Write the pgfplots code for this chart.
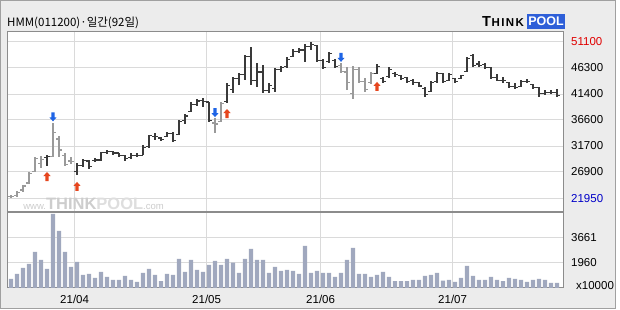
\documentclass[border=0pt]{standalone}
\usepackage{pgfplots}
\pgfplotsset{compat=1.18}
\usepackage{pgfplotstable}
\usepackage{fontspec}
\setmainfont{Liberation Sans}
\newfontfamily\cjk{Noto Sans CJK KR}

\definecolor{bgc}{HTML}{ECECEC}
\definecolor{outerc}{HTML}{A0A0A0}
\definecolor{framec}{HTML}{8C8C8C}
\definecolor{gridc}{HTML}{DADADA}
\definecolor{dkbar}{HTML}{3A3A3A}
\definecolor{ltbar}{HTML}{9A9A9A}
\definecolor{volc}{HTML}{A0A8BE}
\definecolor{arrblue}{HTML}{1E64E6}
\definecolor{arrred}{HTML}{E6461E}
\definecolor{lblred}{HTML}{E00000}
\definecolor{lblblue}{HTML}{0000C8}
\definecolor{poolblue}{HTML}{2E5FD8}
\definecolor{wm}{HTML}{CDCDCD}
\definecolor{wm2}{HTML}{DEDEDE}

\pgfdeclareplotmark{otick}{\pgfpathmoveto{\pgfqpoint{-2.7pt}{0pt}}\pgfpathlineto{\pgfqpoint{0pt}{0pt}}\pgfusepathqstroke}
\pgfdeclareplotmark{ctick}{\pgfpathmoveto{\pgfqpoint{0pt}{0pt}}\pgfpathlineto{\pgfqpoint{2.7pt}{0pt}}\pgfusepathqstroke}
\pgfdeclareplotmark{uparr}{%
 \pgfpathmoveto{\pgfqpoint{0pt}{0pt}}%
 \pgfpathlineto{\pgfqpoint{3.6pt}{-4pt}}%
 \pgfpathlineto{\pgfqpoint{1.6pt}{-4pt}}%
 \pgfpathlineto{\pgfqpoint{1.6pt}{-9pt}}%
 \pgfpathlineto{\pgfqpoint{-1.6pt}{-9pt}}%
 \pgfpathlineto{\pgfqpoint{-1.6pt}{-4pt}}%
 \pgfpathlineto{\pgfqpoint{-3.6pt}{-4pt}}%
 \pgfpathclose\pgfusepathqfill}
\pgfdeclareplotmark{dnarr}{%
 \pgfpathmoveto{\pgfqpoint{0pt}{0pt}}%
 \pgfpathlineto{\pgfqpoint{3.6pt}{4pt}}%
 \pgfpathlineto{\pgfqpoint{1.6pt}{4pt}}%
 \pgfpathlineto{\pgfqpoint{1.6pt}{9pt}}%
 \pgfpathlineto{\pgfqpoint{-1.6pt}{9pt}}%
 \pgfpathlineto{\pgfqpoint{-1.6pt}{4pt}}%
 \pgfpathlineto{\pgfqpoint{-3.6pt}{4pt}}%
 \pgfpathclose\pgfusepathqfill}

\pgfplotstableread{
i o h l c
0 22250 22550 21950 22350
1 22400 23300 22200 23100
2 23500 24450 23150 24250
3 24800 26850 24600 26500
4 27000 29650 26850 29300
5 28500 29850 27600 29200
7 29800 36000 29650 34150
8 33000 33550 29650 30950
9 30000 30400 27950 28300
10 28900 29650 28350 28800
34 36000 36950 34150 35800
35 36300 39900 36200 39700
55 46800 47200 45300 45600
56 45500 46450 42150 43500
57 41500 46600 40450 46000
58 46000 46450 43450 43800
59 43800 44400 41800 42200
60 43500 45500 43450 45200
}\graybars

\pgfplotstableread{
i o h l c
6 29500 30050 28000 29700
11 27000 28550 26300 28100
12 28000 29300 27800 29000
13 28900 29100 27400 27800
14 29000 29450 28700 29100
15 29100 30600 28900 30500
16 30500 30950 30200 30700
17 30700 30750 30000 30400
18 30400 30400 29650 29900
19 29900 30000 28900 29400
20 29500 30400 29450 30000
21 30000 30400 29650 29900
22 30000 31900 30000 31500
23 31600 33750 31500 33600
24 33500 34150 32800 33400
25 33200 33400 32650 32900
26 33400 34300 33400 34000
27 34000 34300 32450 32700
28 33900 36550 33750 36300
29 36400 37650 35800 37300
30 38200 39900 38050 39500
31 39500 40450 39150 40100
32 40200 40650 38950 40000
33 39900 39900 36200 36400
36 40000 43450 39900 43000
37 42300 44550 41600 44300
38 44300 45300 43100 45000
39 45000 48650 44000 48400
40 48400 50150 43100 44000
41 44000 47200 42700 45500
42 45500 46800 41600 42000
43 42000 43450 41600 43000
44 42500 46250 41800 46000
45 46000 46600 45500 46400
46 46500 48300 46250 47900
47 48400 49800 48300 49300
48 49300 50000 49050 49600
49 49600 50750 47350 50200
50 50300 51100 49600 50600
51 50500 50550 47350 47600
52 47700 47950 46050 46400
53 47500 49250 47200 48900
54 47700 47950 46250 46500
61 45300 47000 45150 46600
62 44300 44550 43450 43800
63 44600 46450 44400 46000
64 45200 45500 44550 45000
65 44900 44950 44000 44300
66 44400 44550 43450 43800
67 43900 44200 43100 43500
68 43500 43650 42700 42900
69 42500 42700 40850 41300
70 41900 43850 41800 43500
71 43700 45500 43650 45200
72 45200 45300 43450 43700
73 44000 45300 43850 45000
74 44300 44400 43450 43800
75 44300 44950 44200 44800
76 45600 48300 45500 48000
77 48500 48850 46450 46800
78 47000 47550 46450 46800
79 46900 47200 46050 46300
80 46300 46450 44200 44500
81 44500 45150 43850 44000
82 44000 44550 43450 43900
83 43600 43650 42500 42800
84 42800 43450 42350 42600
85 42800 44000 42700 43800
86 43800 44200 43450 43700
87 43200 43250 42350 42600
88 42600 42700 40850 41500
89 41500 42150 41200 41700
90 41700 42150 41400 41700
91 41700 42350 40850 41100
}\darkbars

\pgfplotstableread{
i v
0 864
1 1200
2 1603
3 1872
4 2678
5 2141
6 1536
7 5232
8 4089
9 2678
10 1670
11 2006
12 1133
13 1200
14 931
15 1334
16 998
17 797
18 797
19 1065
20 797
21 662
22 1267
23 1536
24 1133
25 729
26 1200
27 1133
28 2208
29 1334
30 2141
31 1469
32 1334
33 1805
34 2073
35 1805
36 2208
37 1961
38 1267
39 2208
40 2880
41 2141
42 2141
43 1267
44 1670
45 1401
46 1469
47 1401
48 1200
49 3081
50 1267
51 1401
52 1267
53 1267
54 998
55 1267
56 2141
57 2947
58 1200
59 1200
60 998
61 1133
62 1334
63 998
64 729
65 729
66 729
67 797
68 797
69 1065
70 1133
71 1267
72 752
73 797
74 662
75 931
76 1737
77 1065
78 797
79 797
80 998
81 797
82 729
83 931
84 864
85 797
86 662
87 797
88 864
89 797
90 595
91 595
}\vol

\pgfplotsset{
 chartbase/.style={
  scale only axis, width=556pt,
  xmin=-0.667, xmax=92,
  xtick={10.6,32.6,51.6,73.6},
  scaled ticks=false,
  major tick length=0pt,
  grid=major, grid style={gridc, line width=1pt},
  axis line style={framec, line width=1pt},
  axis background/.style={fill=white},
  yticklabel pos=right,
  yticklabel style={anchor=west, inner sep=0pt, xshift=8pt, font=\fontsize{11.5}{12}\selectfont},
  xticklabel style={inner sep=0pt, font=\fontsize{11.5}{12}\selectfont},
 },
}

\begin{document}
\begin{tikzpicture}
\useasboundingbox (0pt,0pt) rectangle (620pt,310pt);
\fill[white] (0pt,0pt) rectangle (620pt,310pt);
\fill[bgc, draw=outerc, line width=1pt] (0.5pt,1.5pt) rectangle (615.5pt,309.5pt);

\node[anchor=base west, inner sep=0pt] at (7pt,283pt) {\cjk\fontsize{11.5}{12}\selectfont HMM(011200)·일간(92일)};
\node[anchor=base west, inner sep=0pt] at (482pt,283pt) {\bfseries\fontsize{14.5}{15}\selectfont T\kern0.6pt\fontsize{11.5}{12}\selectfont H\kern1.4pt I\kern1.4pt N\kern1.4pt K};
\fill[poolblue] (527pt,281pt) rectangle (565pt,296pt);
\node[anchor=base, inner sep=0pt, text=white] at (546pt,284pt) {\fontsize{12.5}{12.5}\selectfont\bfseries POOL};

\begin{axis}[chartbase, height=180pt,
  at={(7pt,98pt)}, anchor=south west,
  ymin=19395, ymax=52965,
  xticklabels={},
  ytick={21950,26900,31700,36600,41400,46300,51100},
  yticklabels={\textcolor{lblblue}{21950},26900,31700,36600,41400,46300,\textcolor{lblred}{51100}},
]
\node[anchor=south west, inner sep=0pt] at (rel axis cs:0.029,0.010) {\textcolor{wm}{\fontsize{9.5}{9.5}\selectfont www.}\textcolor{wm}{\fontsize{16.5}{16.5}\selectfont\bfseries THINK}\textcolor{wm2}{\fontsize{16.5}{16.5}\selectfont\bfseries POOL}\textcolor{wm}{\fontsize{9.5}{9.5}\selectfont .com}};

\addplot[only marks, mark=otick, mark options={line width=1.1pt}, color=ltbar,
  error bars/.cd, y dir=both, y explicit, error mark=none,
  error bar style={line width=1.1pt, color=ltbar}]
  table[x=i, y=o, y error plus expr=\thisrow{h}-\thisrow{o}, y error minus expr=\thisrow{o}-\thisrow{l}] {\graybars};
\addplot[only marks, mark=ctick, mark options={line width=1.1pt}, color=ltbar] table[x=i, y=c] {\graybars};

\addplot[only marks, mark=otick, mark options={line width=1.1pt}, color=dkbar,
  error bars/.cd, y dir=both, y explicit, error mark=none,
  error bar style={line width=1.1pt, color=dkbar}]
  table[x=i, y=o, y error plus expr=\thisrow{h}-\thisrow{o}, y error minus expr=\thisrow{o}-\thisrow{l}] {\darkbars};
\addplot[only marks, mark=ctick, mark options={line width=1.1pt}, color=dkbar] table[x=i, y=c] {\darkbars};

\addplot[only marks, mark=dnarr, color=arrblue] coordinates {(7,36300) (34,37100) (55,47400)};
\addplot[only marks, mark=uparr, color=arrred] coordinates {(6,26850) (11,25000) (36,38600) (61,43650)};
\end{axis}

\begin{axis}[chartbase, height=76pt,
  at={(7pt,22pt)}, anchor=south west,
  ymin=259, ymax=5362,
  xticklabels={21/04,21/05,21/06,21/07},
  xticklabel style={yshift=-7pt},
  ytick={1960,3661},
  yticklabels={1960,3661},
]
\addplot[ybar, bar width=4.3pt, fill=volc, draw=none] table[x=i, y=v] {\vol};
\end{axis}

\node[anchor=west, inner sep=0pt] at (576pt,24.5pt) {\fontsize{11.5}{12}\selectfont x10000};
\end{tikzpicture}
\end{document}
